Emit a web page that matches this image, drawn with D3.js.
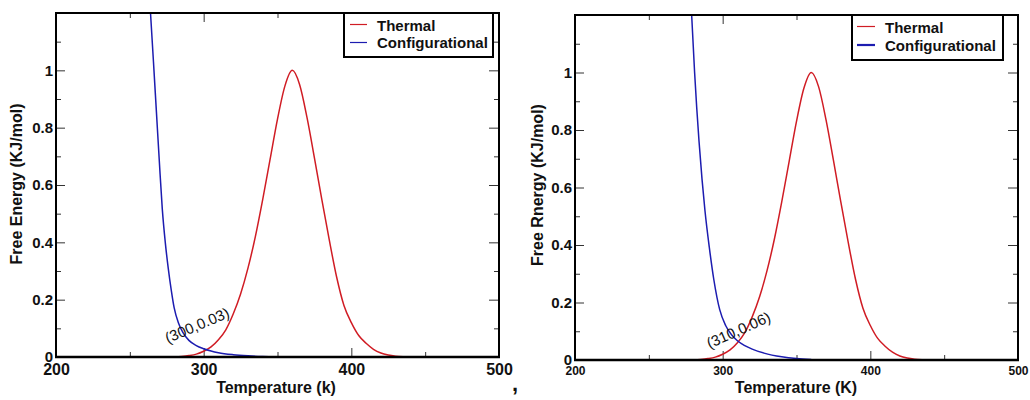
<!DOCTYPE html>
<html><head><meta charset="utf-8">
<script src="https://cdn.jsdelivr.net/npm/d3@7"></script>
<style>
body{margin:0;background:#fff;}
svg{display:block;font-family:"Liberation Sans",Arial,Helvetica,sans-serif;}
</style>
</head><body>
<svg id="c" width="1030" height="400"></svg>
<script>
// ---- data ----
const thermalT = [280,285,290,295,300,305,310,315,320,325,330,335,340,345,350,355,360,365,370,375,380,385,390,395,400,405,410,415,420,425,430,435,440];
const thermalE = [0,0.002,0.005,0.01,0.02,0.035,0.06,0.095,0.15,0.22,0.31,0.42,0.55,0.69,0.83,0.945,1.0,0.95,0.835,0.695,0.55,0.41,0.28,0.18,0.12,0.075,0.048,0.027,0.014,0.007,0.003,0.001,0];
const configLeftT = [264,266,268,270,272,274,276,278,280,283,286,290,295,300,305,310,320,330,340,350];
const configLeftE = [1.2,1.03,0.855,0.68,0.515,0.4,0.31,0.235,0.172,0.118,0.085,0.058,0.04,0.029,0.021,0.015,0.008,0.004,0.0015,0];
const configRightT = [279,281,284,286,288,291,294,298,302,306,310,315,320,328,340,350,360];
const configRightE = [1.2,1.0,0.76,0.63,0.52,0.39,0.28,0.175,0.12,0.088,0.067,0.05,0.038,0.024,0.011,0.005,0.002];
const xMajorTicks = [200,300,400,500];
const xMinorTicks = [250,350,450];
const yMajorTicks = [0,0.2,0.4,0.6,0.8,1];
const yMinorTicks = [0.1,0.3,0.5,0.7,0.9,1.1];
const seriesNames = ["Thermal","Configurational"];
const seriesColors = ["#d01c24","#1c1cb0"];
const xDomain = [200,500];
const yDomain = [0,1.2];

const panels = [
  {id:"L", x0:56, x1:499, y0:13, y1:357,
   configT:configLeftT, configE:configLeftE,
   ylabel:"Free Energy (KJ/mol)", xlabel:"Temperature (k)",
   note:"(300,0.03)", noteX:300, noteY:0.03, noteDx:-36, noteDy:-5, noteRot:-23,
   xTickFont:16, xTickY:18, ylabelX:22, ylabelY:184, xlabelX:276, xlabelY:393,
   legend:{x:344, y:13, w:149, h:44, lx1:350, lx2:367, ly:[24.5,42.5], tx:377, ty:[30.5,48], blueW:1.2}},
  {id:"R", x0:575, x1:1018, y0:15, y1:360,
   configT:configRightT, configE:configRightE,
   ylabel:"Free Rnergy (KJ/mol)", xlabel:"Temperature (K)",
   note:"(310,0.06)", noteX:310, noteY:0.06, noteDx:-28, noteDy:6, noteRot:-24,
   xTickFont:12, xTickY:15, ylabelX:543, ylabelY:185, xlabelX:796, xlabelY:393,
   legend:{x:852, y:15, w:151, h:45, lx1:857, lx2:875, ly:[26.5,45], tx:885, ty:[32.5,50.5], blueW:2.2}}
];

const svg = d3.select("#c");
svg.append("rect").attr("width",1030).attr("height",400).attr("fill","#fff");

panels.forEach(p => {
  const x = d3.scaleLinear().domain(xDomain).range([p.x0, p.x1]);
  const y = d3.scaleLinear().domain(yDomain).range([p.y1, p.y0]);
  const g = svg.append("g");

  g.append("clipPath").attr("id","clip"+p.id).append("rect")
    .attr("x",p.x0).attr("y",p.y0).attr("width",p.x1-p.x0).attr("height",p.y1-p.y0);

  // ticks (inward)
  const tickStyle = sel => { sel.select(".domain").remove(); sel.selectAll(".tick line").attr("stroke","#333").attr("stroke-width",1); };
  const gb = g.append("g").attr("transform",`translate(0,${p.y1})`)
    .call(d3.axisBottom(x).tickValues(xMajorTicks).tickSizeInner(-9).tickSizeOuter(0).tickFormat(d3.format("d")));
  tickStyle(gb);
  gb.selectAll(".tick text").attr("dy",null).attr("y",p.xTickY)
    .attr("font-size",p.xTickFont).attr("font-weight","bold").attr("fill","#111").attr("font-family",null);
  const gbm = g.append("g").attr("transform",`translate(0,${p.y1})`)
    .call(d3.axisBottom(x).tickValues(xMinorTicks).tickSizeInner(-5).tickSizeOuter(0).tickFormat(""));
  tickStyle(gbm);
  const gt = g.append("g").attr("transform",`translate(0,${p.y0})`)
    .call(d3.axisTop(x).tickValues(xMajorTicks.slice(1,3)).tickSizeInner(-9).tickSizeOuter(0).tickFormat(""));
  tickStyle(gt);
  const gtm = g.append("g").attr("transform",`translate(0,${p.y0})`)
    .call(d3.axisTop(x).tickValues(xMinorTicks).tickSizeInner(-5).tickSizeOuter(0).tickFormat(""));
  tickStyle(gtm);

  const gl = g.append("g").attr("transform",`translate(${p.x0},0)`)
    .call(d3.axisLeft(y).tickValues(yMajorTicks).tickSizeInner(-9).tickSizeOuter(0).tickPadding(3).tickFormat(d3.format("~g")));
  tickStyle(gl);
  gl.selectAll(".tick text").attr("font-size",15).attr("font-weight","bold").attr("fill","#111").attr("font-family",null);
  const glm = g.append("g").attr("transform",`translate(${p.x0},0)`)
    .call(d3.axisLeft(y).tickValues(yMinorTicks).tickSizeInner(-5).tickSizeOuter(0).tickFormat(""));
  tickStyle(glm);
  const gr = g.append("g").attr("transform",`translate(${p.x1},0)`)
    .call(d3.axisRight(y).tickValues(yMajorTicks.slice(1)).tickSizeInner(-10).tickSizeOuter(0).tickFormat(""));
  tickStyle(gr);
  const grm = g.append("g").attr("transform",`translate(${p.x1},0)`)
    .call(d3.axisRight(y).tickValues(yMinorTicks).tickSizeInner(-5).tickSizeOuter(0).tickFormat(""));
  tickStyle(grm);

  // curves
  const line = d3.line().x(d => x(d[0])).y(d => y(d[1])).curve(d3.curveMonotoneX);
  const thermal = thermalT.map((t,i) => [t, thermalE[i]]);
  const config = p.configT.map((t,i) => [t, p.configE[i]]);
  const cg = g.append("g").attr("clip-path",`url(#clip${p.id})`);
  cg.append("path").datum(thermal).attr("d",line).attr("fill","none")
    .attr("stroke",seriesColors[0]).attr("stroke-width",1.5);
  cg.append("path").datum(config).attr("d",line).attr("fill","none")
    .attr("stroke",seriesColors[1]).attr("stroke-width",1.5);

  // frame
  g.append("rect").attr("x",p.x0).attr("y",p.y0).attr("width",p.x1-p.x0).attr("height",p.y1-p.y0)
    .attr("fill","none").attr("stroke","#000").attr("stroke-width",2);
  g.append("line").attr("x1",p.x0-1).attr("x2",p.x1+1).attr("y1",p.y1).attr("y2",p.y1)
    .attr("stroke","#000").attr("stroke-width",2.6);

  // annotation
  g.append("text")
    .attr("transform",`translate(${x(p.noteX)+p.noteDx},${y(p.noteY)+p.noteDy}) rotate(${p.noteRot})`)
    .attr("font-size",15).attr("fill","#111").text(p.note);

  // legend
  const L = p.legend;
  g.append("rect").attr("x",L.x).attr("y",L.y).attr("width",L.w).attr("height",L.h)
    .attr("fill","#fff").attr("stroke","#000").attr("stroke-width",2);
  seriesNames.forEach((name,i) => {
    g.append("line").attr("x1",L.lx1).attr("x2",L.lx2).attr("y1",L.ly[i]).attr("y2",L.ly[i])
      .attr("stroke",seriesColors[i]).attr("stroke-width", i===1 ? L.blueW : 1.2);
    g.append("text").attr("x",L.tx).attr("y",L.ty[i]).attr("font-size",15).attr("font-weight","bold")
      .attr("fill","#111").text(name);
  });

  // axis labels
  g.append("text").attr("transform",`translate(${p.ylabelX},${p.ylabelY}) rotate(-90)`)
    .attr("text-anchor","middle").attr("font-size",16).attr("font-weight","bold").attr("fill","#111").text(p.ylabel);
  g.append("text").attr("x",p.xlabelX).attr("y",p.xlabelY)
    .attr("text-anchor","middle").attr("font-size",16).attr("font-weight","bold").attr("fill","#111").text(p.xlabel);
});

// stray comma between the panels
svg.append("text").attr("x",512).attr("y",391).attr("font-size",22).attr("font-weight","bold").attr("fill","#111").text(",");
</script>
</body></html>
